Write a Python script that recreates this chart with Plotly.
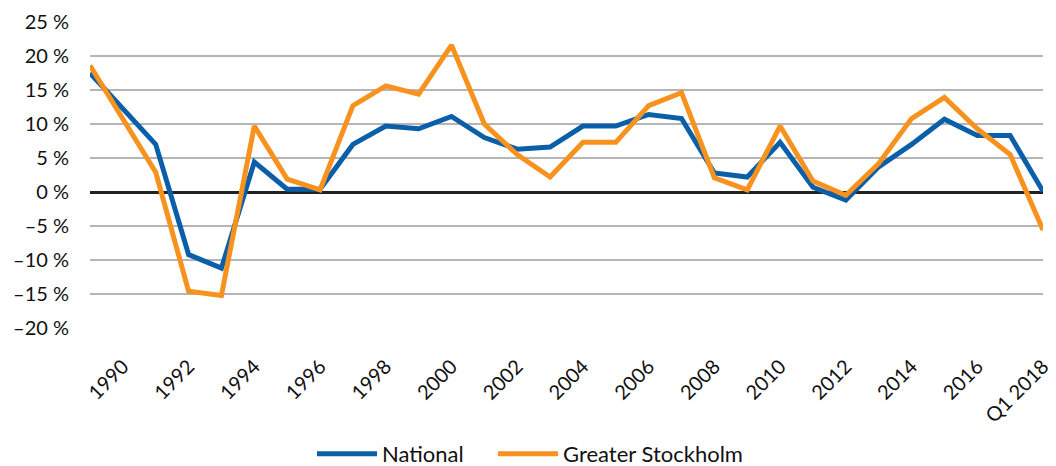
import plotly.graph_objects as go

categories = [str(y) for y in range(1989, 2018)] + ["Q1 2018"]
national = [17.5, 12.3, 7.0, -9.2, -11.2, 4.4, 0.4, 0.4, 7.0, 9.7, 9.3, 11.1, 8.0, 6.3, 6.6,
            9.7, 9.7, 11.4, 10.8, 2.8, 2.2, 7.3, 0.7, -1.2, 3.7, 7.0, 10.7, 8.3, 8.3, 0.1]
stockholm = [18.6, 10.9, 2.9, -14.6, -15.2, 9.7, 1.9, 0.3, 12.7, 15.6, 14.4, 21.6, 10.0, 5.5, 2.2,
             7.3, 7.3, 12.7, 14.6, 2.1, 0.3, 9.7, 1.6, -0.5, 4.2, 10.8, 13.9, 9.3, 5.5, -5.6]
tick_labels = categories[1::2]
y_ticks = list(range(-20, 30, 5))
y_tick_text = [("\u2013" if v < 0 else "") + f"{abs(v)} %" for v in y_ticks]

font_family = "Lato, 'Open Sans', sans-serif"

# page body has an 8px default margin, so the figure is 8px smaller than the window
W, H = 1048, 458

fig = go.Figure()
fig.add_trace(go.Scatter(x=categories, y=national, mode="lines", name="National",
                         legend="legend",
                         line=dict(color="#0B5FA8", width=5)))
fig.add_trace(go.Scatter(x=categories, y=stockholm, mode="lines", name="Greater Stockholm",
                         legend="legend2",
                         line=dict(color="#F7921E", width=5)))

legend_common = dict(orientation="h", xref="container", xanchor="left",
                     yref="container", y=12 / H, yanchor="middle",
                     font=dict(size=22), itemwidth=60)

fig.update_layout(
    width=W, height=H,
    margin=dict(l=82, r=13, t=14, b=138),
    paper_bgcolor="white", plot_bgcolor="white",
    font=dict(family=font_family, size=18, color="#111111"),
    showlegend=True,
    legend=dict(x=304 / W, **legend_common),
    legend2=dict(x=485 / W, **legend_common),
    xaxis=dict(type="category", range=[0, len(categories) - 1], automargin=False,
               tickmode="array", tickvals=tick_labels, ticktext=tick_labels,
               tickangle=-45, showgrid=False, showline=False, ticks="",
               ticklabelstandoff=22, tickfont=dict(size=20)),
    yaxis=dict(range=[-20, 25], tickmode="array", tickvals=y_ticks, ticktext=y_tick_text,
               automargin=False, ticklabelstandoff=20,
               showgrid=True, gridcolor="#B5B5B5", gridwidth=1.5,
               zeroline=True, zerolinecolor="#222222", zerolinewidth=2.5,
               showline=False, ticks="", tickfont=dict(size=20)),
)

fig.write_html("out.html")
